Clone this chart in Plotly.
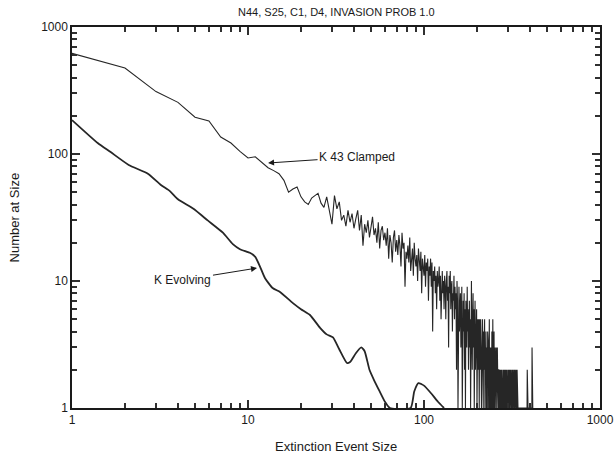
import plotly.graph_objects as go

# K 43 Clamped: counts for event sizes 1..415
clamped_counts = [
    620, 475, 310, 255, 195, 182, 136, 122, 105, 93,
    95, 85, 78, 74, 70, 62, 50, 53, 55, 46,
    42, 40, 45, 47, 49, 41, 38, 46, 35, 28,
    47, 37, 42, 30, 33, 27, 36, 29, 34, 26,
    31, 36, 25, 33, 19, 28, 24, 30, 22, 27,
    32, 23, 26, 20, 29, 18, 25, 27, 21, 24,
    19, 26, 15, 23, 20, 14, 22, 25, 17, 21,
    16, 23, 19, 13, 24, 18, 20, 9, 17, 15,
    19, 14, 22, 12, 17, 18, 11, 20, 15, 13,
    16, 10, 18, 14, 12, 17, 8, 15, 13, 11,
    16, 9, 14, 12, 15, 7, 13, 11, 15, 9,
    14, 4, 12, 10, 13, 8, 11, 6, 12, 9,
    10, 13, 7, 11, 5, 9, 12, 8, 10, 6,
    11, 9, 5, 10, 12, 7, 9, 3, 11, 8,
    12, 6, 9, 10, 4, 8, 7, 11, 5, 9,
    6, 8, 2, 10, 7, 1, 6, 9, 4, 7,
    8, 3, 6, 9, 1, 5, 7, 4, 8, 2,
    6, 1, 7, 5, 3, 9, 4, 6, 2, 5,
    7, 3, 5, 1, 6, 10, 4, 2, 5, 8,
    3, 6, 1, 4, 7, 2, 5, 3, 6, 1,
    4, 5, 2, 5, 3, 1, 5, 4, 2, 5,
    3, 1, 4, 2, 5, 3, 1, 4, 2, 3,
    5, 1, 3, 2, 4, 1, 3, 2, 1, 4,
    2, 3, 1, 2, 5, 1, 3, 2, 1, 3,
    2, 1, 4, 2, 1, 5, 2, 1, 2, 4,
    1, 2, 3, 1, 2, 1, 3, 2, 1, 2,
    3, 1, 2, 1, 2, 2, 1, 2, 1, 2,
    1, 2, 1, 2, 1, 2, 1, 1, 2, 1,
    2, 1, 2, 1, 2, 1, 2, 2, 1, 2,
    1, 2, 1, 2, 1, 1, 2, 1, 2, 1,
    2, 1, 2, 1, 1, 2, 1, 2, 1, 2,
    1, 2, 1, 1, 2, 1, 2, 1, 2, 1,
    2, 1, 1, 2, 1, 2, 1, 2, 1, 1,
    2, 1, 2, 1, 1, 2, 1, 2, 1, 1,
    2, 1, 1, 1, 1, 1, 1, 1, 1, 1,
    1, 1, 1, 1, 1, 1, 1, 1, 1, 1,
    1, 1, 1, 1, 1, 1, 1, 1, 1, 1,
    1, 1, 1, 1, 1, 1, 1, 1, 1, 1,
    1, 1, 1, 1, 1, 2, 1, 2, 1, 1,
    1, 1, 1, 1, 1, 1, 1, 1, 1, 1,
    1, 1, 1, 1, 1, 1, 1, 1, 1, 1,
    3, 1, 2, 1, 1,
]
clamped_sizes = list(range(1, len(clamped_counts) + 1))

# K Evolving (smoothed)
evolving_sizes = [1, 1.4, 1.65, 2.1, 2.7, 3.2, 3.6, 4.0, 4.9, 5.9, 7.2, 8.2, 9.0,
                  10.3, 11.0, 11.7, 12.5, 13.8, 15.2, 18, 20, 22.5, 25.6, 28, 30.4,
                  33, 36.5, 38, 41, 44, 46, 49, 52, 56, 60, 64, 84, 88, 93, 100,
                  110, 120, 130]
evolving_counts = [185, 122, 104, 82, 70, 57, 51, 44, 37, 30, 24, 19.5, 17.8,
                   16.6, 15.5, 13, 10.5, 8.8, 8.2, 6.7, 6.0, 5.4, 4.3, 3.8, 3.6,
                   2.9, 2.26, 2.3, 2.7, 3.0, 2.8, 2.0, 1.66, 1.35, 1.12, 1.0, 1.0,
                   1.35, 1.57, 1.5, 1.3, 1.12, 1.0]

tick_vals = [1, 10, 100, 1000]
tick_text = ["1", "10", "100", "1000"]

FONT = "Liberation Sans, Arial, Helvetica, sans-serif"
INK = "#1a1a1a"

fig = go.Figure()
fig.add_trace(go.Scatter(x=clamped_sizes, y=clamped_counts, mode="lines",
                         line=dict(color="#262626", width=1.1), name="K 43 Clamped",
                         showlegend=False))
fig.add_trace(go.Scatter(x=evolving_sizes, y=evolving_counts, mode="lines",
                         line=dict(color="#262626", width=1.8, shape="spline", smoothing=0.5),
                         name="K Evolving", showlegend=False))

axis_common = dict(
    type="log", range=[0, 3], automargin=False,
    showgrid=False, zeroline=False,
    showline=True, linecolor=INK, linewidth=1.5,
    ticks="inside", ticklen=8, tickwidth=2, tickcolor="#303030",
    mirror="allticks",
    tickvals=tick_vals, ticktext=tick_text,
    tickfont=dict(family=FONT, size=12, color=INK),
    minor=dict(ticks="inside", ticklen=5, tickcolor="#303030", tickwidth=2,
               dtick="D1"),
)

fig.update_layout(xaxis=axis_common, yaxis=axis_common)

fig.add_annotation(x=1.114, y=1.929, xref="x", yref="y", text="K 43 Clamped",
                   showarrow=True, ax=89, ay=-6, arrowhead=2, arrowsize=1.2,
                   arrowwidth=1, arrowcolor=INK,
                   font=dict(family=FONT, size=12, color=INK))
fig.add_annotation(x=1.051, y=1.102, xref="x", yref="y", text="K Evolving",
                   showarrow=True, ax=-74, ay=12, arrowhead=2, arrowsize=1.2,
                   arrowwidth=1, arrowcolor=INK,
                   font=dict(family=FONT, size=12, color=INK))

# titles as paper annotations
fig.add_annotation(x=0.5, y=-0.1, xref="paper", yref="paper", yanchor="middle",
                   text="Extinction Event Size", showarrow=False,
                   font=dict(family=FONT, size=13, color=INK))
fig.add_annotation(x=-0.108, y=0.5, xref="paper", yref="paper", xanchor="center",
                   text="Number at Size", showarrow=False, textangle=-90,
                   font=dict(family=FONT, size=13, color=INK))
fig.add_annotation(x=0.5, y=1.04, xref="paper", yref="paper", yanchor="middle",
                   text="N44, S25, C1, D4, INVASION PROB 1.0", showarrow=False,
                   font=dict(family=FONT, size=11, color=INK))

fig.update_layout(
    width=614, height=460,
    margin=dict(l=72, r=14, t=27, b=52, autoexpand=False),
    paper_bgcolor="white", plot_bgcolor="white",
)

fig.write_html("out.html")
